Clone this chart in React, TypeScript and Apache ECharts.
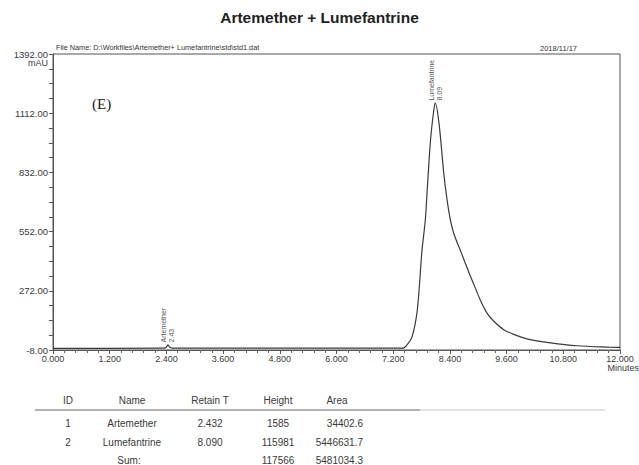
import React, { useEffect, useRef } from 'react';
import * as echarts from 'echarts';

// Chromatogram trace: retention time (min) and detector signal (mAU)
const timeMin = [
  0, 2.3, 2.38, 2.41, 2.432, 2.46, 2.5, 2.58, 7.4, 7.49, 7.6, 7.71, 7.81, 7.88, 7.92,
  7.99, 8.06, 8.09, 8.17, 8.27, 8.34, 8.41, 8.48, 8.6, 8.7, 8.8, 8.91, 9.05, 9.19, 9.33,
  9.54, 9.75, 10.03, 10.53, 11.09, 11.79, 12,
];
const signalMAU = [
  0, 0.5, 2, 9, 15.85, 8, 2, 0.5, 0.5, 15.6, 55, 181, 465, 607, 749,
  985, 1127, 1159.81, 1064, 828, 702, 607, 544, 475, 418, 360, 300, 225, 165, 128,
  88, 66, 45, 26, 12, 5, 4,
];

// Integrated peaks (heights in 0.01 mAU units, as reported)
const peakIds = [1, 2];
const peakNames = ['Artemether', 'Lumefantrine'];
const peakRetention = [2.432, 8.09];
const peakHeights = [1585, 115981];
const peakAreas = [34402.6, 5446631.7];

// Axis tick values
const yLabelValues = [-8, 272, 552, 832, 1112, 1392];
const yTickValues = [
  -8, 62, 132, 202, 272, 342, 412, 482, 552, 622, 692, 762, 832, 902, 972, 1042, 1112,
  1182, 1252, 1322, 1392,
];

const FONT = '"Liberation Sans", Arial, sans-serif';
const INK = '#3a3a3a';

export default function App() {
  const ref = useRef<HTMLDivElement>(null);

  useEffect(() => {
    if (!ref.current) return;
    const chart = echarts.init(ref.current, undefined, { renderer: 'svg' });

    const trace = timeMin.map((t, i) => [t, signalMAU[i]]);
    const peakMarks = peakNames.map((name, i) => ({
      value: [peakRetention[i], peakHeights[i] / 100],
      name,
      rt: peakRetention[i].toFixed(2),
    }));

    const heightSum = peakHeights.reduce((a, b) => a + b, 0);
    const areaSum = peakAreas.reduce((a, b) => a + b, 0);

    const colId = 68;
    const colName = 132;
    const colRt = 210;
    const colHeight = 278;
    const colAreaHead = 337;
    const colAreaRight = 363;
    const rowYs = [423, 442];

    const txt = (x: number, y: number, text: string, align = 'center', size = 10) => ({
      type: 'text',
      x,
      y,
      style: {
        text,
        fill: INK,
        font: `${size}px ${FONT}`,
        align,
        verticalAlign: 'middle',
      },
    });

    const tableItems: any[] = [
      txt(colId, 400, 'ID'),
      txt(colName, 400, 'Name'),
      txt(colRt, 400, 'Retain T'),
      txt(colHeight, 400, 'Height'),
      txt(colAreaHead, 400, 'Area'),
      {
        type: 'line',
        shape: { x1: 35, y1: 410, x2: 420, y2: 410 },
        style: { stroke: '#666', lineWidth: 1.2 },
      },
      {
        type: 'line',
        shape: { x1: 420, y1: 410, x2: 605, y2: 410 },
        style: { stroke: '#c8c8c8', lineWidth: 1 },
      },
    ];
    peakNames.forEach((name, i) => {
      const y = rowYs[i];
      tableItems.push(txt(colId, y, String(peakIds[i])));
      tableItems.push(txt(colName, y, name));
      tableItems.push(txt(colRt, y, peakRetention[i].toFixed(3)));
      tableItems.push(txt(colHeight, y, String(peakHeights[i])));
      tableItems.push(txt(colAreaRight, y, peakAreas[i].toFixed(1), 'right'));
    });
    tableItems.push(txt(129, 460, 'Sum:'));
    tableItems.push(txt(colHeight, 460, String(heightSum)));
    tableItems.push(txt(colAreaRight, 460, areaSum.toFixed(1), 'right'));

    chart.setOption({
      animation: false,
      backgroundColor: '#ffffff',
      title: {
        text: 'Artemether + Lumefantrine',
        left: 'center',
        top: 4,
        textStyle: { fontFamily: FONT, fontSize: 15.5, fontWeight: 'bold', color: '#222' },
      },
      grid: {
        left: 53,
        right: 19,
        top: 54,
        bottom: 115,
        show: true,
        borderColor: '#555',
        borderWidth: 1,
        backgroundColor: 'transparent',
      },
      xAxis: {
        type: 'value',
        min: 0,
        max: 12,
        interval: 1.2,
        axisLine: { show: true, onZero: false, lineStyle: { color: '#555', width: 1 } },
        axisTick: { show: true, length: 4, lineStyle: { color: '#555' } },
        minorTick: { show: true, splitNumber: 5, length: 3, lineStyle: { color: '#666' } },
        splitLine: { show: false },
        axisLabel: {
          fontFamily: FONT,
          fontSize: 9,
          color: INK,
          margin: 4,
          formatter: (v: number) => v.toFixed(3),
        },
      },
      yAxis: {
        type: 'value',
        min: -8,
        max: 1392,
        axisLine: { show: true, lineStyle: { color: '#555', width: 1 } },
        axisTick: { show: true, length: 4, customValues: yTickValues, lineStyle: { color: '#555' } },
        splitLine: { show: false },
        axisLabel: {
          customValues: yLabelValues,
          fontFamily: FONT,
          fontSize: 9.5,
          color: INK,
          margin: 5,
          formatter: (v: number) => v.toFixed(2),
        },
      },
      series: [
        {
          type: 'line',
          data: trace,
          showSymbol: false,
          smooth: 0.3,
          lineStyle: { color: INK, width: 1.2 },
          z: 3,
        },
        {
          type: 'scatter',
          data: peakMarks,
          symbolSize: 1,
          itemStyle: { color: 'rgba(0,0,0,0)' },
          label: {
            show: true,
            position: 'top',
            distance: 2,
            rotate: 90,
            align: 'left',
            verticalAlign: 'middle',
            fontFamily: FONT,
            fontSize: 7,
            lineHeight: 8,
            color: '#222',
            formatter: (p: any) => `${p.data.name}\n${p.data.rt}`,
          },
          z: 4,
        },
      ],
      graphic: [
        {
          type: 'text',
          x: 56,
          y: 51,
          style: {
            text: 'File Name: D:\\Workfiles\\Artemether+ Lumefantrine\\std\\std1.dat',
            fill: '#333',
            font: `7.3px ${FONT}`,
            verticalAlign: 'bottom',
          },
        },
        {
          type: 'text',
          x: 540,
          y: 52,
          style: { text: '2018/11/17', fill: '#333', font: `7.5px ${FONT}`, verticalAlign: 'bottom' },
        },
        {
          type: 'text',
          x: 48,
          y: 63,
          style: { text: 'mAU', fill: INK, font: `9px ${FONT}`, align: 'right', verticalAlign: 'middle' },
        },
        {
          type: 'text',
          x: 639,
          y: 368,
          style: { text: 'Minutes', fill: INK, font: `9px ${FONT}`, align: 'right', verticalAlign: 'middle' },
        },
        {
          type: 'text',
          x: 92,
          y: 104,
          style: {
            text: '(E)',
            fill: '#222',
            font: `15px "Liberation Serif", "DejaVu Serif", serif`,
            verticalAlign: 'middle',
          },
        },
        ...tableItems,
      ],
    });

    return () => chart.dispose();
  }, []);

  return (
    <div
      ref={ref}
      style={{ position: 'absolute', left: 0, top: 0, width: 639, height: 465 }}
    />
  );
}
